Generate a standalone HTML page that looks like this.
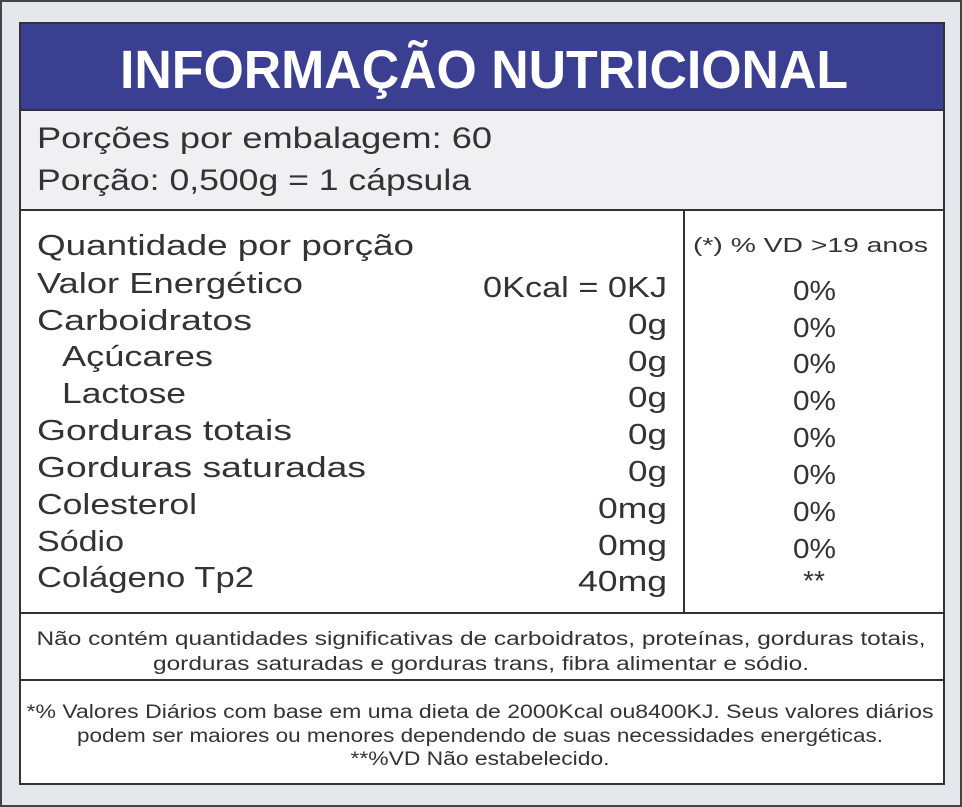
<!DOCTYPE html>
<html><head><meta charset="utf-8"><style>
html,body{margin:0;padding:0;background:#e6e7ec}
svg{display:block}
text{font-family:"Liberation Sans",sans-serif;fill:#333}
</style></head><body>
<svg width="962" height="807" viewBox="0 0 962 807" xmlns="http://www.w3.org/2000/svg">
<rect x="1" y="1" width="960" height="805" fill="#e6e7ec" stroke="#444" stroke-width="2"/>
<rect x="20" y="23" width="924" height="761" fill="#fff" stroke="#333" stroke-width="2"/>
<rect x="21" y="24" width="922" height="86" fill="#3b3f92"/>
<rect x="21" y="110" width="922" height="100" fill="#f0f0f2"/>
<line x1="20" y1="110" x2="944" y2="110" stroke="#333" stroke-width="2"/>
<line x1="20" y1="210" x2="944" y2="210" stroke="#333" stroke-width="2"/>
<line x1="684" y1="210" x2="684" y2="613" stroke="#333" stroke-width="2"/>
<line x1="20" y1="613" x2="944" y2="613" stroke="#333" stroke-width="2"/>
<line x1="20" y1="680" x2="944" y2="680" stroke="#333" stroke-width="2"/>
<text x="120" y="88" font-size="54" font-weight="bold" style="fill:#fff" textLength="728" lengthAdjust="spacingAndGlyphs">INFORMAÇÃO NUTRICIONAL</text>
<g font-size="30">
<text x="37" y="148" textLength="455" lengthAdjust="spacingAndGlyphs">Porções por embalagem: 60</text>
<text x="37" y="190" textLength="434" lengthAdjust="spacingAndGlyphs">Porção: 0,500g = 1 cápsula</text>
</g>
<g font-size="29">
<text x="37" y="255" textLength="377" lengthAdjust="spacingAndGlyphs">Quantidade por porção</text>
<text x="37" y="293" textLength="266" lengthAdjust="spacingAndGlyphs">Valor Energético</text>
<text x="37" y="330" textLength="215" lengthAdjust="spacingAndGlyphs">Carboidratos</text>
<text x="62" y="366" textLength="151" lengthAdjust="spacingAndGlyphs">Açúcares</text>
<text x="62" y="403" textLength="124" lengthAdjust="spacingAndGlyphs">Lactose</text>
<text x="37" y="440" textLength="255" lengthAdjust="spacingAndGlyphs">Gorduras totais</text>
<text x="37" y="477" textLength="329" lengthAdjust="spacingAndGlyphs">Gorduras saturadas</text>
<text x="37" y="514" textLength="160" lengthAdjust="spacingAndGlyphs">Colesterol</text>
<text x="37" y="551" textLength="87" lengthAdjust="spacingAndGlyphs">Sódio</text>
<text x="37" y="587" textLength="217" lengthAdjust="spacingAndGlyphs">Colágeno Tp2</text>
</g>
<g font-size="29">
<text x="483" y="297" textLength="184" lengthAdjust="spacingAndGlyphs">0Kcal = 0KJ</text>
<text x="628" y="334" textLength="39" lengthAdjust="spacingAndGlyphs">0g</text>
<text x="628" y="371" textLength="39" lengthAdjust="spacingAndGlyphs">0g</text>
<text x="628" y="407" textLength="39" lengthAdjust="spacingAndGlyphs">0g</text>
<text x="628" y="444" textLength="39" lengthAdjust="spacingAndGlyphs">0g</text>
<text x="628" y="481" textLength="39" lengthAdjust="spacingAndGlyphs">0g</text>
<text x="598" y="518" textLength="69" lengthAdjust="spacingAndGlyphs">0mg</text>
<text x="598" y="555" textLength="69" lengthAdjust="spacingAndGlyphs">0mg</text>
<text x="578" y="591" textLength="89" lengthAdjust="spacingAndGlyphs">40mg</text>
</g>
<text x="693" y="252" font-size="20" textLength="235" lengthAdjust="spacingAndGlyphs">(*) % VD  &gt;19 anos</text>
<g font-size="28">
<text x="793" y="300" textLength="43" lengthAdjust="spacingAndGlyphs">0%</text>
<text x="793" y="337" textLength="43" lengthAdjust="spacingAndGlyphs">0%</text>
<text x="793" y="373" textLength="43" lengthAdjust="spacingAndGlyphs">0%</text>
<text x="793" y="410" textLength="43" lengthAdjust="spacingAndGlyphs">0%</text>
<text x="793" y="447" textLength="43" lengthAdjust="spacingAndGlyphs">0%</text>
<text x="793" y="484" textLength="43" lengthAdjust="spacingAndGlyphs">0%</text>
<text x="793" y="521" textLength="43" lengthAdjust="spacingAndGlyphs">0%</text>
<text x="793" y="558" textLength="43" lengthAdjust="spacingAndGlyphs">0%</text>
<text x="814" y="590" text-anchor="middle">**</text>
</g>
<g font-size="19" text-anchor="middle">
<text x="481" y="645" textLength="889" lengthAdjust="spacingAndGlyphs">Não contém quantidades significativas de carboidratos, proteínas, gorduras totais,</text>
<text x="481" y="670" textLength="656" lengthAdjust="spacingAndGlyphs">gorduras saturadas e gorduras trans, fibra alimentar e sódio.</text>
<text x="480" y="718" textLength="907" lengthAdjust="spacingAndGlyphs">*% Valores Diários com base em uma dieta de 2000Kcal ou8400KJ. Seus valores diários</text>
<text x="480" y="742" textLength="806" lengthAdjust="spacingAndGlyphs">podem ser maiores ou menores dependendo de suas necessidades energéticas.</text>
<text x="480" y="765" textLength="259" lengthAdjust="spacingAndGlyphs">**%VD Não estabelecido.</text>
</g>
</svg>
</body></html>
